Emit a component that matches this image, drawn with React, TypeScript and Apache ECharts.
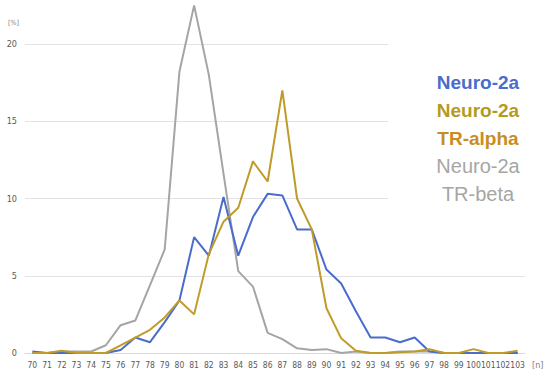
import React, { useEffect, useRef } from "react";
import * as echarts from "echarts";

const categories = ["70","71","72","73","74","75","76","77","78","79","80","81","82","83","84","85","86","87","88","89","90","91","92","93","94","95","96","97","98","99","100","101","102","103"];

const neuro2a = [0.1,0,0,0,0,0,0.2,1.0,0.7,2.0,3.4,7.5,6.3,10.1,6.3,8.8,10.3,10.2,8.0,8.0,5.4,4.5,2.7,1.0,1.0,0.7,1.0,0.1,0,0,0,0,0,0];
const trAlpha = [0,0,0.15,0,0,0,0.5,1.0,1.5,2.3,3.4,2.5,6.4,8.5,9.4,12.4,11.1,17.0,10.0,8.0,2.9,0.95,0.15,0,0,0.05,0.1,0.25,0,0,0.25,0,0,0.15];
const trBeta = [0,0,0.1,0.1,0.1,0.5,1.8,2.1,4.4,6.7,18.2,22.5,18.0,11.6,5.3,4.3,1.3,0.9,0.3,0.2,0.25,0,0.1,0,0,0.1,0.1,0.1,0,0,0,0,0,0];

const yTicks = [0, 5, 10, 15, 20];

const legendLines = [
  { text: "Neuro-2a", color: "#4a6ccc", bold: true },
  { text: "Neuro-2a", color: "#b39b1f", bold: true },
  { text: "TR-alpha", color: "#c98d1f", bold: true },
  { text: "Neuro-2a", color: "#a6a6a6", bold: false },
  { text: "TR-beta", color: "#a6a6a6", bold: false },
];

export default function App() {
  const ref = useRef<HTMLDivElement>(null);
  useEffect(() => {
    if (!ref.current) return;
    const chart = echarts.init(ref.current, undefined, { renderer: "svg" });
    const font = "'Liberation Sans', Arial, sans-serif";
    const narrow = "'Liberation Sans Narrow', 'DejaVu Sans Condensed', 'Roboto', sans-serif";
    const mkLine = (name: string, data: number[], color: string) => ({
      name,
      type: "line",
      data,
      clip: false,
      symbol: "none",
      smooth: false,
      z: 3,
      lineStyle: { color, width: 2 },
      itemStyle: { color },
    });
    chart.setOption({
      animation: false,
      backgroundColor: "#ffffff",
      grid: { left: 25, right: 25, top: 44, bottom: 28, containLabel: false },
      xAxis: {
        type: "category",
        data: categories,
        boundaryGap: true,
        axisLine: { show: true, lineStyle: { color: "#d9d9d9", width: 1 } },
        axisTick: { show: false },
        axisLabel: { color: "#595959", fontSize: 8.5, fontFamily: narrow, margin: 7, interval: 0 },
        splitLine: { show: false },
      },
      yAxis: {
        type: "value",
        min: yTicks[0],
        max: yTicks[yTicks.length - 1],
        interval: 5,
        axisLine: { show: false },
        axisTick: { show: false },
        axisLabel: { color: "#595959", fontSize: 9, fontFamily: narrow, margin: 8 },
        splitLine: { show: true, lineStyle: { color: "#e3e3e3", width: 1 } },
      },
      graphic: [
        { type: "rect", z: 1, shape: { x: 388, y: 30, width: 162, height: 205 }, style: { fill: "#ffffff" } },
        { type: "text", x: 8, y: 19, style: { text: "[%]", fontSize: 7, fill: "#7f7f7f", fontFamily: narrow } },
        { type: "text", x: 532, y: 360, style: { text: "[n]", fontSize: 9, fill: "#7f7f7f", fontFamily: narrow } },
        ...legendLines.map((l, i) => ({
          type: "text",
          z: 5,
          x: 478,
          y: 82 + i * 28,
          style: {
            text: l.text,
            fill: l.color,
            fontSize: l.bold ? 19 : 20,
            fontWeight: l.bold ? "bold" : "normal",
            fontFamily: font,
            align: "center",
            verticalAlign: "middle",
          },
        })),
      ],
      series: [
        mkLine("TR-beta", trBeta, "#a5a5a5"),
        mkLine("Neuro-2a", neuro2a, "#4a6ccc"),
        mkLine("TR-alpha", trAlpha, "#bf9c28"),
      ],
    });
    return () => chart.dispose();
  }, []);
  return <div ref={ref} style={{ position: "fixed", left: 0, top: 0, width: 550, height: 381 }} />;
}
